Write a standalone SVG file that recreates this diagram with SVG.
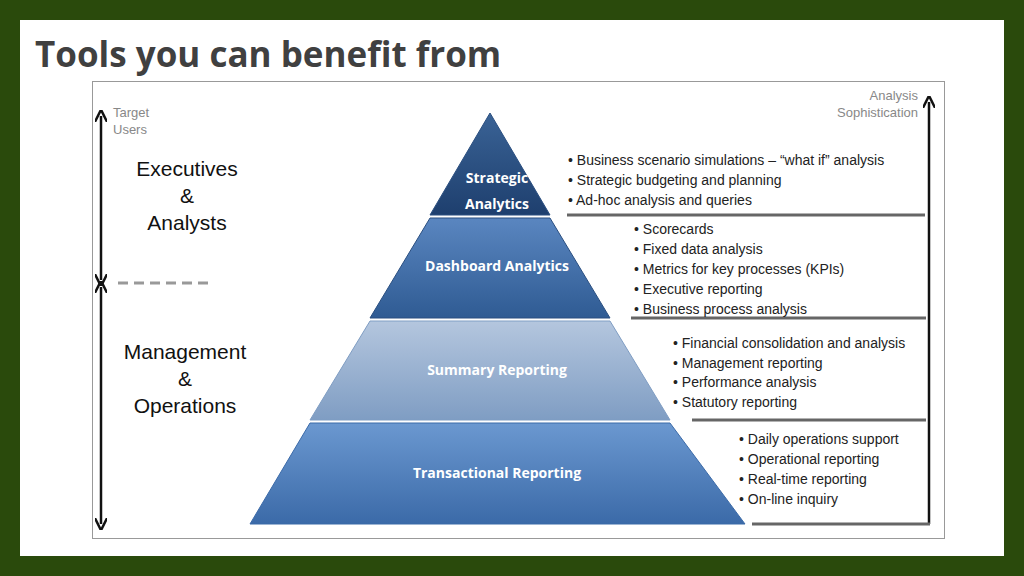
<svg xmlns="http://www.w3.org/2000/svg" width="1024" height="576" viewBox="0 0 1024 576">
<defs>
<style>
.t{font-family:"Open Sans","Liberation Sans",sans-serif;fill:#fff;font-weight:bold;font-size:14px;text-anchor:middle}
.b{font-family:"Liberation Sans",sans-serif;fill:#222;font-size:14px}
.g{font-family:"Liberation Sans",sans-serif;fill:#888;font-size:13px}
.u{font-family:"Liberation Sans",sans-serif;fill:#111;font-size:21px;text-anchor:middle}
.rl{stroke:#666;stroke-width:3}
</style>
<marker id="a" viewBox="0 0 10 10" refX="5" refY="5" markerWidth="5" markerHeight="5" orient="auto-start-reverse"><path d="M0,0 L10,5 L0,10" fill="none" stroke="#111" stroke-width="2"/></marker>
<linearGradient id="g1" x1="0" y1="0" x2="0" y2="1"><stop offset="0" stop-color="#3a6396"/><stop offset="1" stop-color="#1e3f6e"/></linearGradient>
<linearGradient id="g2" x1="0" y1="0" x2="0" y2="1"><stop offset="0" stop-color="#5a86c0"/><stop offset="1" stop-color="#2f5b93"/></linearGradient>
<linearGradient id="g3" x1="0" y1="0" x2="0" y2="1"><stop offset="0" stop-color="#b4c6de"/><stop offset="1" stop-color="#7f9dc3"/></linearGradient>
<linearGradient id="g4" x1="0" y1="0" x2="0" y2="1"><stop offset="0" stop-color="#6b98d0"/><stop offset="1" stop-color="#3b6aa8"/></linearGradient>
</defs>
<rect width="1024" height="576" fill="#2a4a0c"/>
<rect x="20" y="20" width="984" height="536" fill="#fff"/>
<text x="35" y="67" font-family="Open Sans,Liberation Sans,sans-serif" font-weight="bold" font-size="35" fill="#404040">Tools you can benefit from</text>
<rect x="92.5" y="81.5" width="852" height="457" fill="#fff" stroke="#999"/>
<g id="tier-strategic"><polygon points="490,113 430,215 550,215" fill="url(#g1)" stroke="#2b4f80"/><text class="t" x="497" y="183">Strategic</text><text class="t" x="497" y="209">Analytics</text></g>
<g id="tier-dashboard"><polygon points="430,218 550,218 610,318 370,318" fill="url(#g2)" stroke="#2b4f80"/><text class="t" x="497" y="271">Dashboard Analytics</text></g>
<g id="tier-summary"><polygon points="370,321 610,321 670,420 310,420" fill="url(#g3)" stroke="#7f9dc3"/><text class="t" x="497" y="375">Summary Reporting</text></g>
<g id="tier-transactional"><polygon points="310,423 670,423 745,524 250,524" fill="url(#g4)" stroke="#3b6aa8"/><text class="t" x="497" y="478">Transactional Reporting</text></g>
<g id="connectors">
<line x1="101" y1="116" x2="101" y2="280" stroke="#111" stroke-width="2.5" marker-start="url(#a)" marker-end="url(#a)"/>
<line x1="101" y1="287" x2="101" y2="524" stroke="#111" stroke-width="2.5" marker-start="url(#a)" marker-end="url(#a)"/>
<line x1="118" y1="283" x2="212" y2="283" stroke="#999" stroke-width="3" stroke-dasharray="10,6"/>
<line x1="929" y1="524" x2="929" y2="102" stroke="#111" stroke-width="2.5" marker-end="url(#a)"/>
<line class="rl" x1="567" y1="215" x2="925" y2="215"/>
<line class="rl" x1="631" y1="318" x2="926" y2="318"/>
<line class="rl" x1="692" y1="420" x2="926" y2="420"/>
<line class="rl" x1="752" y1="524" x2="930" y2="524"/>
</g>
<g id="labels">
<text class="g" x="113" y="117">Target</text><text class="g" x="113" y="134">Users</text>
<text class="g" x="918" y="100" text-anchor="end">Analysis</text><text class="g" x="918" y="117" text-anchor="end">Sophistication</text>
<text class="u" x="187" y="176">Executives</text><text class="u" x="187" y="203">&amp;</text><text class="u" x="187" y="230">Analysts</text>
<text class="u" x="185" y="359">Management</text><text class="u" x="185" y="386">&amp;</text><text class="u" x="185" y="413">Operations</text>
<text class="b" x="568" y="165">• Business scenario simulations – “what if” analysis</text>
<text class="b" x="568" y="185">• Strategic budgeting and planning</text>
<text class="b" x="568" y="205">• Ad-hoc analysis and queries</text>
<text class="b" x="634" y="234">• Scorecards</text>
<text class="b" x="634" y="254">• Fixed data analysis</text>
<text class="b" x="634" y="274">• Metrics for key processes (KPIs)</text>
<text class="b" x="634" y="294">• Executive reporting</text>
<text class="b" x="634" y="314">• Business process analysis</text>
<text class="b" x="673" y="348">• Financial consolidation and analysis</text>
<text class="b" x="673" y="368">• Management reporting</text>
<text class="b" x="673" y="387">• Performance analysis</text>
<text class="b" x="673" y="407">• Statutory reporting</text>
<text class="b" x="739" y="444" font-size="13">• Daily operations support</text>
<text class="b" x="739" y="464" font-size="13">• Operational reporting</text>
<text class="b" x="739" y="484" font-size="13">• Real-time reporting</text>
<text class="b" x="739" y="504" font-size="13">• On-line inquiry</text>
</g>
</svg>
